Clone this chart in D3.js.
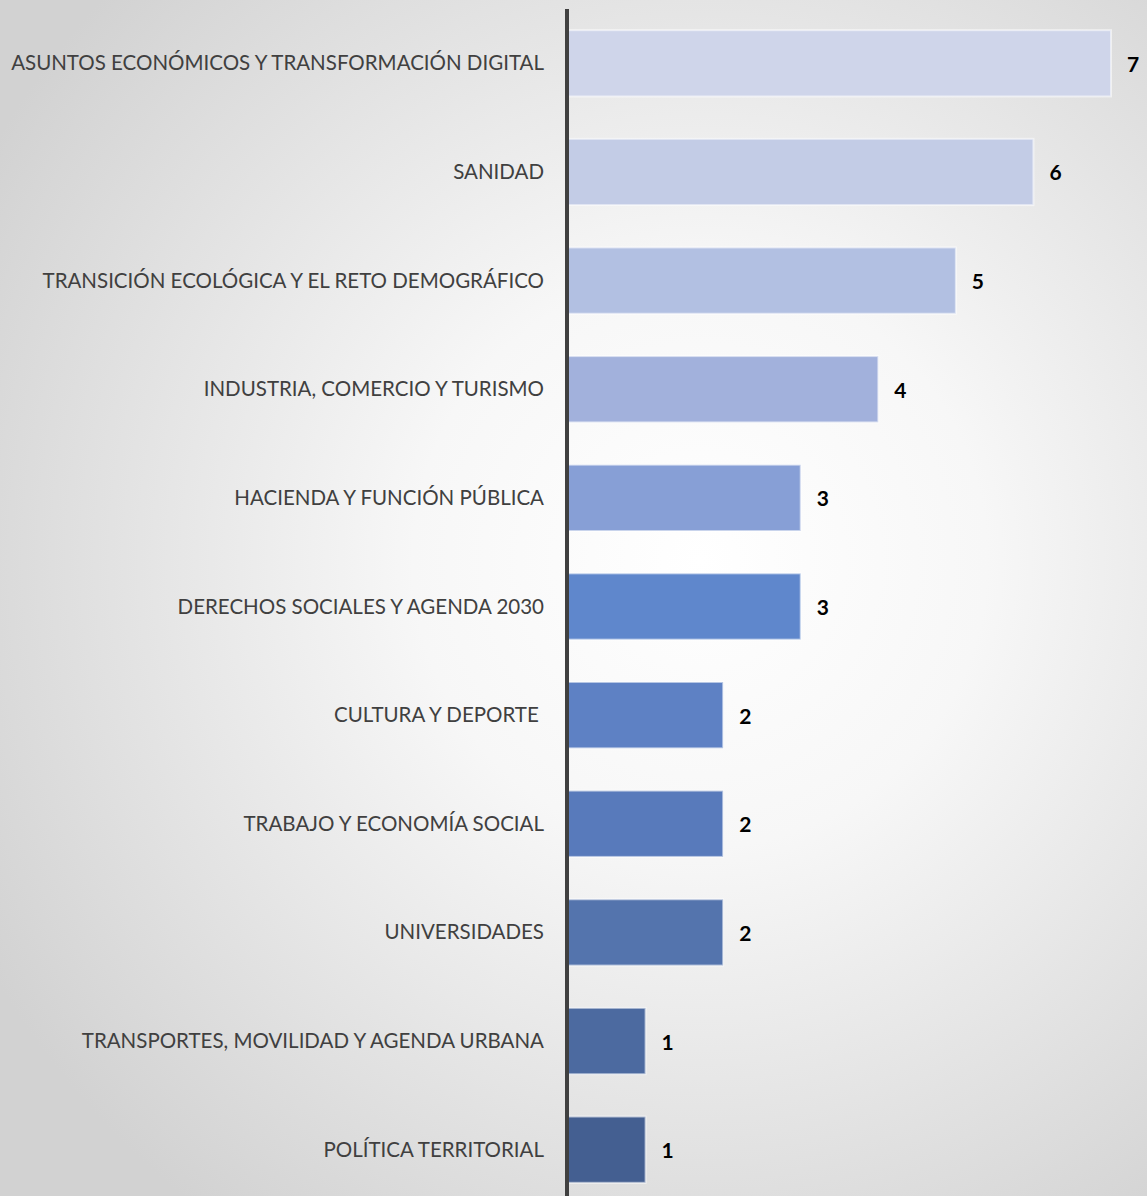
<!DOCTYPE html>
<html><head><meta charset="utf-8">
<script src="https://cdn.jsdelivr.net/npm/d3@7"></script>
<style>html,body{margin:0;padding:0;}svg{display:block;}</style>
</head><body>
<script>
const categories = [
  "ASUNTOS ECONÓMICOS Y TRANSFORMACIÓN DIGITAL",
  "SANIDAD",
  "TRANSICIÓN ECOLÓGICA Y EL RETO DEMOGRÁFICO",
  "INDUSTRIA, COMERCIO Y TURISMO",
  "HACIENDA Y FUNCIÓN PÚBLICA",
  "DERECHOS SOCIALES Y AGENDA 2030",
  "CULTURA Y DEPORTE ",
  "TRABAJO Y ECONOMÍA SOCIAL",
  "UNIVERSIDADES",
  "TRANSPORTES, MOVILIDAD Y AGENDA URBANA",
  "POLÍTICA TERRITORIAL"
];
const values = [7, 6, 5, 4, 3, 3, 2, 2, 2, 1, 1];
const barColors = ["#cfd5ea","#c3cce6","#b2c0e2","#a2b1dc","#879fd6","#5f87cc","#5e81c4","#587abb","#5474ad","#4c6aa0","#445f91"];

const W = 1147, H = 1196;
const svg = d3.select("body").append("svg").attr("width", W).attr("height", H);
const defs = svg.append("defs");
const rg = defs.append("radialGradient").attr("id","bg").attr("gradientUnits","userSpaceOnUse")
  .attr("cx", 700).attr("cy", 560).attr("r", 820);
rg.append("stop").attr("offset","0").attr("stop-color","#ffffff");
rg.append("stop").attr("offset","0.35").attr("stop-color","#f7f7f7");
rg.append("stop").attr("offset","1").attr("stop-color","#d2d2d2");
svg.append("rect").attr("width",W).attr("height",H).attr("fill","url(#bg)");

const x0 = 568;
const x = d3.scaleLinear().domain([0, 7]).range([x0, 1111]);
const y = d3.scaleBand().domain(categories).range([9, 1204]).paddingInner(0.39).paddingOuter(0.195);

svg.selectAll("rect.bar").data(categories).join("rect").attr("class","bar")
  .attr("x", x(0)).attr("y", d => y(d))
  .attr("width", (d,i) => x(values[i]) - x(0))
  .attr("height", y.bandwidth())
  .attr("fill", (d,i) => barColors[i])
  .attr("stroke", "rgba(255,255,255,0.55)").attr("stroke-width", 2);

svg.selectAll("text.cat").data(categories).join("text").attr("class","cat")
  .attr("x", 544).attr("y", d => y(d) + y.bandwidth()/2 - 1)
  .attr("text-anchor","end").attr("dominant-baseline","central")
  .attr("font-family","Lato, 'Open Sans', sans-serif").attr("font-size", 20.5)
  .attr("fill","#404040").attr("xml:space","preserve").style("white-space","pre")
  .text(d => d);

svg.selectAll("text.val").data(categories).join("text").attr("class","val")
  .attr("x", (d,i) => x(values[i]) + 16).attr("y", d => y(d) + y.bandwidth()/2)
  .attr("dominant-baseline","central")
  .attr("font-family","Lato, 'Open Sans', sans-serif").attr("font-size", 21).attr("font-weight","bold")
  .attr("fill","#000000")
  .text((d,i) => values[i]);

svg.append("line").attr("x1", 567).attr("x2", 567).attr("y1", 9).attr("y2", H)
  .attr("stroke","#404040").attr("stroke-width", 4);
</script>
</body></html>
